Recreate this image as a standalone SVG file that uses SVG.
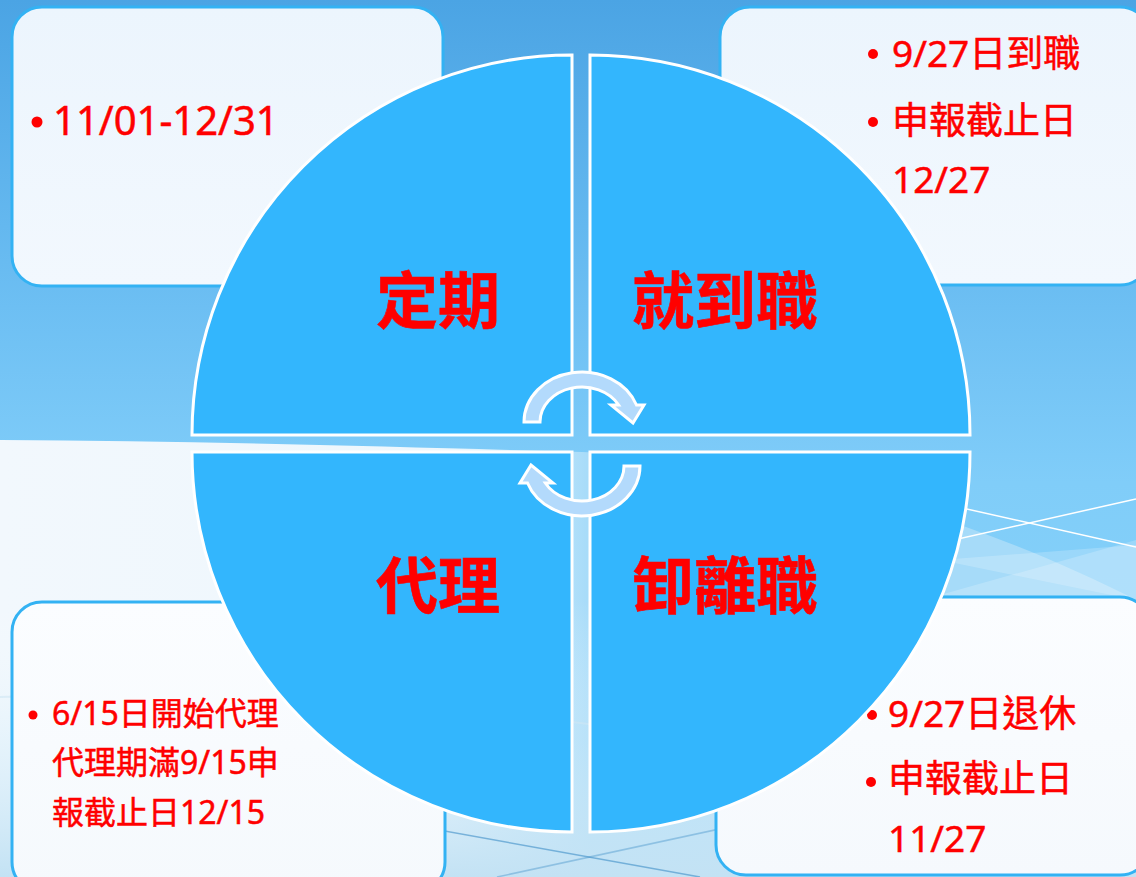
<svg xmlns="http://www.w3.org/2000/svg" width="1136" height="877" viewBox="0 0 1136 877">
<style>
.box{fill:url(#boxFill);stroke:#33b2f3;stroke-width:3}
.boxb{fill:url(#boxFill2);stroke:#33b2f3;stroke-width:3}
.quad{fill:#33b6fd;stroke:#ffffff;stroke-width:3}
.qt{font-family:"Noto Sans CJK TC","Noto Sans CJK SC",sans-serif;font-weight:bold;font-size:62px;fill:#ff0000;stroke:#ff0000;stroke-width:0.6;text-anchor:middle}
.bt{font-family:"Noto Sans","Noto Sans CJK TC",sans-serif;fill:#ff0000;stroke:#ff0000;stroke-width:0.5}
.dot{fill:#ff0000}
.arrow{fill:#b3dafc;stroke:#ffffff;stroke-width:3;stroke-linejoin:miter}
</style>
<defs>
<linearGradient id="bg" x1="0" y1="0" x2="0" y2="1">
<stop offset="0" stop-color="#4ba4e4"/>
<stop offset="0.35" stop-color="#6dbff3"/>
<stop offset="0.55" stop-color="#80cdf9"/>
<stop offset="0.7" stop-color="#84d0f9"/>
<stop offset="1" stop-color="#9ad6f8"/>
</linearGradient>
<linearGradient id="swoosh" x1="0" y1="0" x2="1" y2="0">
<stop offset="0" stop-color="#f2f8fd"/>
<stop offset="0.4" stop-color="#eef7fd"/>
<stop offset="0.52" stop-color="#a6dbf9"/>
<stop offset="1" stop-color="#a6dbf9"/>
</linearGradient>
<linearGradient id="lower" x1="0" y1="0" x2="0" y2="1">
<stop offset="0" stop-color="#ffffff" stop-opacity="0"/>
<stop offset="0.5" stop-color="#d4ecf9" stop-opacity="0.4"/>
<stop offset="1" stop-color="#c3e2f4" stop-opacity="1"/>
</linearGradient>
<linearGradient id="boxFill" x1="0" y1="0" x2="0" y2="1">
<stop offset="0" stop-color="#ecf5fd"/>
<stop offset="1" stop-color="#f2f8fe"/>
</linearGradient>
<linearGradient id="boxFill2" x1="0" y1="0" x2="0" y2="1">
<stop offset="0" stop-color="#fbfdff"/>
<stop offset="1" stop-color="#f5f9fd"/>
</linearGradient>
</defs>

<g id="background">
<rect x="0" y="0" width="1136" height="877" fill="url(#bg)"/>
<path d="M0 440 C200 441 400 447 582 452 C780 458 980 520 1136 600 L1136 877 L0 877 Z" fill="url(#swoosh)"/>
<rect x="0" y="600" width="1136" height="277" fill="url(#lower)"/>
<path d="M940 560 L1136 600 L1136 545 Z" fill="#ffffff" opacity="0.2"/>
<path d="M940 595 L1136 540 L1136 600 Z" fill="#ffffff" opacity="0.2"/>
<line x1="900" y1="494" x2="1136" y2="547" stroke="#ffffff" stroke-width="1.5"/>
<line x1="900" y1="552" x2="1136" y2="499" stroke="#ffffff" stroke-width="1.5"/>
<line x1="300" y1="805" x2="700" y2="877" stroke="#3f8fc8" stroke-width="1.5" opacity="0.6"/>
<line x1="900" y1="790" x2="497" y2="877" stroke="#3f8fc8" stroke-width="1.5" opacity="0.4"/>
<path d="M0 697 C200 690 450 700 700 740" fill="none" stroke="#cfe6f4" stroke-width="2" opacity="0.6"/>
</g>

<g id="box-regular">
<rect class="box" x="12" y="7" width="431" height="279" rx="30"/>
<circle class="dot" cx="37" cy="122" r="5.5"/>
<text class="bt" x="53" y="135" font-size="40">11/01-12/31</text>
</g>

<g id="box-onboard">
<rect class="box" x="720" y="7" width="430" height="278" rx="30"/>
<circle class="dot" cx="873" cy="54" r="5"/>
<text class="bt" x="892" y="67" font-size="37">9/27日到職</text>
<circle class="dot" cx="873" cy="122" r="5"/>
<text class="bt" x="892" y="134" font-size="37">申報截止日</text>
<text class="bt" x="892" y="193" font-size="37">12/27</text>
</g>

<g id="box-acting">
<rect class="boxb" x="12" y="602" width="433" height="290" rx="30"/>
<circle class="dot" cx="33" cy="715" r="4.5"/>
<text class="bt" x="52" y="725" font-size="32">6/15日開始代理</text>
<text class="bt" x="52" y="774" font-size="32">代理期滿9/15申</text>
<text class="bt" x="52" y="824" font-size="32">報截止日12/15</text>
</g>

<g id="box-leave">
<rect class="boxb" x="716" y="597" width="434" height="278" rx="30"/>
<circle class="dot" cx="872" cy="715" r="5"/>
<text class="bt" x="888" y="727" font-size="37">9/27日退休</text>
<circle class="dot" cx="871" cy="782" r="5"/>
<text class="bt" x="888" y="792" font-size="37">申報截止日</text>
<text class="bt" x="888" y="852" font-size="37">11/27</text>
</g>

<g id="node-regular">
<path class="quad" d="M572 435 L192 435 A380 380 0 0 1 572 55 Z"/>
<text class="qt" x="438" y="324">定期</text>
</g>
<g id="node-onboard">
<path class="quad" d="M590 435 L590 55 A380 380 0 0 1 970 435 Z"/>
<text class="qt" x="725" y="324">就到職</text>
</g>
<g id="node-acting">
<path class="quad" d="M572 452 L572 832 A380 380 0 0 1 192 452 Z"/>
<text class="qt" x="438" y="609">代理</text>
</g>
<g id="node-leave">
<path class="quad" d="M590 452 L970 452 A380 380 0 0 1 590 832 Z"/>
<text class="qt" x="725" y="609">卸離職</text>
</g>

<g id="connectors">
<path id="arrow-top" class="arrow" d="M524 422 A58 50 0 0 1 636.5 405 L644 405 L633 423 L611 405 L618.7 405 A42 35 0 0 0 540 422 Z"/>
<path id="arrow-bottom" class="arrow" d="M524 422 A58 50 0 0 1 636.5 405 L644 405 L633 423 L611 405 L618.7 405 A42 35 0 0 0 540 422 Z" transform="rotate(180 582 444)"/>
</g>
</svg>
